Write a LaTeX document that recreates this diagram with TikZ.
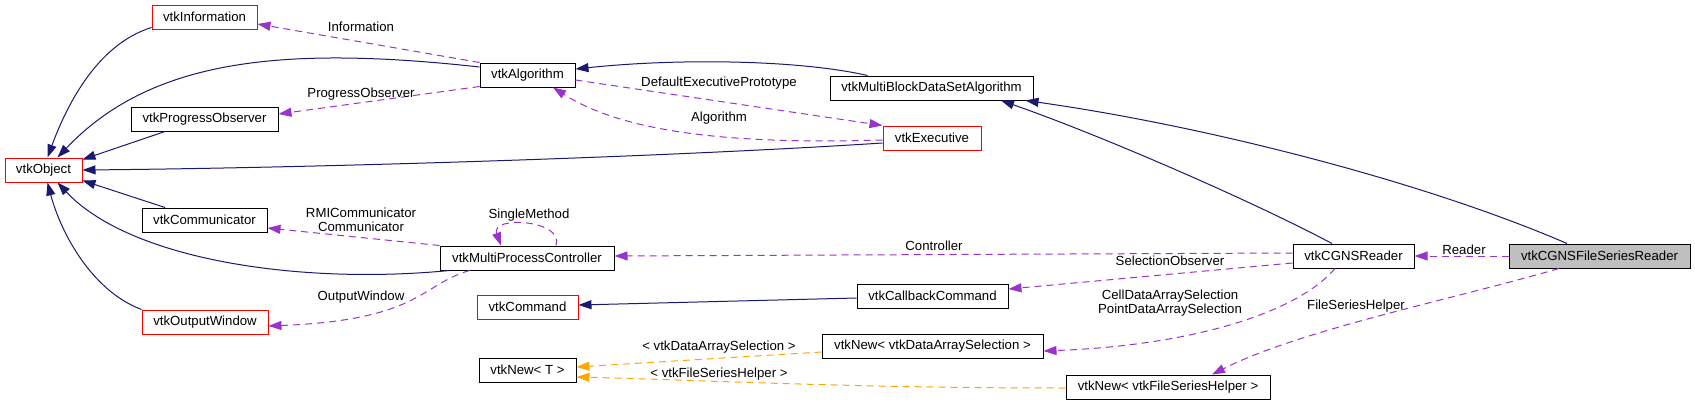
\documentclass[tikz,border=0pt]{standalone}
\usepackage{fontspec}
\setmainfont{Liberation Sans}
\usetikzlibrary{arrows.meta,calc}
\definecolor{navy}{HTML}{191970}
\definecolor{purp}{HTML}{9A32CD}
\definecolor{orng}{HTML}{FFA500}
\definecolor{boxgray}{HTML}{BFBFBF}
\begin{document}
\begin{tikzpicture}[x=1pt,y=-1pt,
  font=\fontsize{13.2}{14}\selectfont,
  cls/.style={draw=black,line width=1pt,minimum height=24pt,inner sep=0pt,fill=white},
  redcls/.style={cls,draw=red},
  inh/.style={draw=navy,line width=1pt,-{Triangle[length=13pt,width=9pt]}},
  use/.style={draw=purp,line width=1pt,dash pattern=on 7pt off 5pt,-{Triangle[length=13pt,width=9pt]}},
  tmpl/.style={draw=orng,line width=1pt,dash pattern=on 7pt off 5pt,-{Triangle[length=13pt,width=9pt]}},
  lbl/.style={inner sep=0pt,align=center}]
\useasboundingbox (0,0) rectangle (1695,405);
% classes
\node[redcls,minimum width=105pt] (info) at (204.5,17) {vtkInformation};
\node[cls,minimum width=147pt] (prog) at (204.5,119) {vtkProgressObserver};
\node[redcls,minimum width=77pt] (obj) at (43.5,170) {vtkObject};
\node[cls,minimum width=95pt] (alg) at (527.5,75) {vtkAlgorithm};
\node[cls,minimum width=203pt] (mbds) at (931.5,88) {vtkMultiBlockDataSetAlgorithm};
\node[redcls,minimum width=98pt] (exec) at (932,138) {vtkExecutive};
\node[cls,minimum width=125pt] (comm) at (204.5,220) {vtkCommunicator};
\node[redcls,minimum width=126pt] (outw) at (205,322) {vtkOutputWindow};
\node[cls,minimum width=174pt] (mpc) at (527,258) {vtkMultiProcessController};
\node[redcls,minimum width=101pt] (cmd) at (527.5,307) {vtkCommand};
\node[cls,minimum width=151pt] (cbc) at (932.5,296) {vtkCallbackCommand};
\node[cls,minimum width=221pt] (ndas) at (932.5,346) {vtkNew< vtkDataArraySelection >};
\node[cls,minimum width=97pt] (newt) at (527.5,370) {vtkNew< T >};
\node[cls,minimum width=121pt] (cgns) at (1353.5,256) {vtkCGNSReader};
\node[cls,minimum width=181pt,fill=boxgray] (cfsr) at (1599.5,256) {vtkCGNSFileSeriesReader};
\node[cls,minimum width=204pt] (nfsh) at (1168,387) {vtkNew< vtkFileSeriesHelper >};
% inheritance
\draw[inh] ($(info.south west)+(0,-2)$) .. controls (95,45) and (65,110) .. ($(obj.north)+(4,0)$);
\draw[inh] ($(alg.west)+(0,-8)$) .. controls (280,45) and (150,60) .. ($(obj.north)+(14,0)$);
\draw[inh] ($(prog.south)+(-39.5,0)$) -- ($(obj.north east)+(0,2)$);
\draw[inh] ($(exec.west)+(0,5)$) .. controls (650,158) and (300,168) .. (obj.east);
\draw[inh] ($(comm.north)+(-39.5,0)$) -- ($(obj.south east)+(0,-2)$);
\draw[inh] ($(mpc.south west)+(10,0)$) .. controls (300,285) and (130,260) .. ($(obj.south)+(14,0)$);
\draw[inh] (outw.north west) .. controls (90,290) and (60,230) .. ($(obj.south)+(4,0)$);
\draw[inh] ($(mbds.north west)+(38,0)$) .. controls (800,60) and (680,58) .. ($(alg.east)+(0,-6)$);
\draw[inh] ($(cgns.north)+(-21.5,0)$) .. controls (1250,200) and (1100,135) .. ($(mbds.south)+(69.5,0)$);
\draw[inh] ($(cfsr.north)+(-32.5,0)$) .. controls (1420,180) and (1200,125) .. ($(mbds.south east)+(-8,0)$);
\draw[inh] ($(cbc.west)+(0,2)$) -- ($(cmd.east)+(0,-2)$);
% usage
\draw[use] (alg.north west) -- ($(info.east)+(0,7)$);
\draw[use] ($(alg.south west)+(0,-1)$) -- ($(prog.east)+(0,-5)$);
\draw[use] ($(alg.east)+(0,5)$) -- (exec.north west);
\draw[use] ($(exec.west)+(0,2)$) .. controls (720,145) and (620,130) .. ($(alg.south)+(25.5,0)$);
\draw[use] (mpc.north west) -- ($(comm.east)+(0,8)$);
\draw[use] ($(mpc.north)+(29,0)$) .. controls (565,220) and (490,215) .. ($(mpc.north)+(-26,0)$);
\draw[use] ($(mpc.south west)+(30,0)$) .. controls (420,285) and (420,320) .. ($(outw.east)+(0,4)$);
\draw[use] ($(cgns.west)+(0,-3)$) -- ($(mpc.east)+(0,-2)$);
\draw[use] ($(cgns.west)+(0,7)$) -- ($(cbc.east)+(0,-7)$);
\draw[use] ($(cgns.south)+(-18.5,0)$) .. controls (1300,310) and (1200,345) .. ($(ndas.east)+(0,5)$);
\draw[use] (cfsr.west) -- (cgns.east);
\draw[use] ($(cfsr.south)+(-40.5,0)$) .. controls (1450,300) and (1300,330) .. ($(nfsh.north)+(44,0)$);
% template
\draw[tmpl] ($(ndas.west)+(0,6)$) -- ($(newt.east)+(0,-3)$);
\draw[tmpl] ($(nfsh.west)+(0,1)$) .. controls (850,388) and (700,380) .. ($(newt.east)+(0,7)$);
% labels
\node[lbl] (lInfo) at (361,27) {Information};
\node[lbl] (lProg) at (361,94) {ProgressObserver};
\node[lbl] (lDef) at (719,83) {DefaultExecutivePrototype};
\node[lbl] (lAlg) at (719,118) {Algorithm};
\node[lbl] (lComm) at (361,220) {RMICommunicator\\Communicator};
\node[lbl] (lSingle) at (529,215) {SingleMethod};
\node[lbl] (lOut) at (361,297) {OutputWindow};
\node[lbl] (lCtrl) at (934,246) {Controller};
\node[lbl] (lSel) at (1170,261) {SelectionObserver};
\node[lbl] (lCell) at (1170,303) {CellDataArraySelection\\PointDataArraySelection};
\node[lbl] (lRead) at (1464,250) {Reader};
\node[lbl] (lFSH) at (1356,306) {FileSeriesHelper};
\node[lbl] (lDAS) at (719,347) {< vtkDataArraySelection >};
\node[lbl] (lFS) at (719,374) {< vtkFileSeriesHelper >};
\end{tikzpicture}
\end{document}
